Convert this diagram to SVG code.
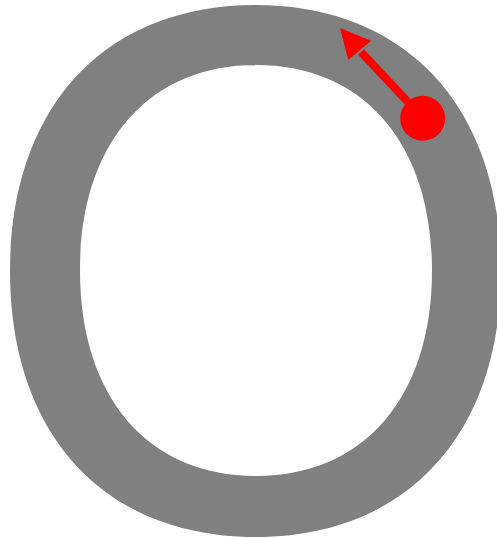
<svg xmlns="http://www.w3.org/2000/svg" width="497" height="539" viewBox="0 0 497 539">
<style>
.ring{fill:#808080;fill-rule:evenodd}
.red{fill:#ff0000}
.shaft{stroke:#ff0000;stroke-width:8;fill:none}
</style>
<rect width="497" height="539" fill="#ffffff"/>
<g id="ring">
<path class="ring" d="M255.5,5 C406.5,5 501,107.4 501,271 C501,434.6 406.5,537 255.5,537 C104.5,537 10,434.6 10,271 C10,107.4 104.5,5 255.5,5 Z M256,65 C364.2,65 432,144.1 432,270.5 C432,396.9 364.2,476 256,476 C147.8,476 80,396.9 80,270.5 C80,144.1 147.8,65 256,65 Z"/>
</g>
<g id="arrow">
<line class="shaft" x1="423" y1="118" x2="361" y2="52"/>
<polygon class="red" points="340,28 371,40.7 348.3,60"/>
<circle class="red" cx="422.7" cy="118.3" r="22.5"/>
</g>
</svg>
